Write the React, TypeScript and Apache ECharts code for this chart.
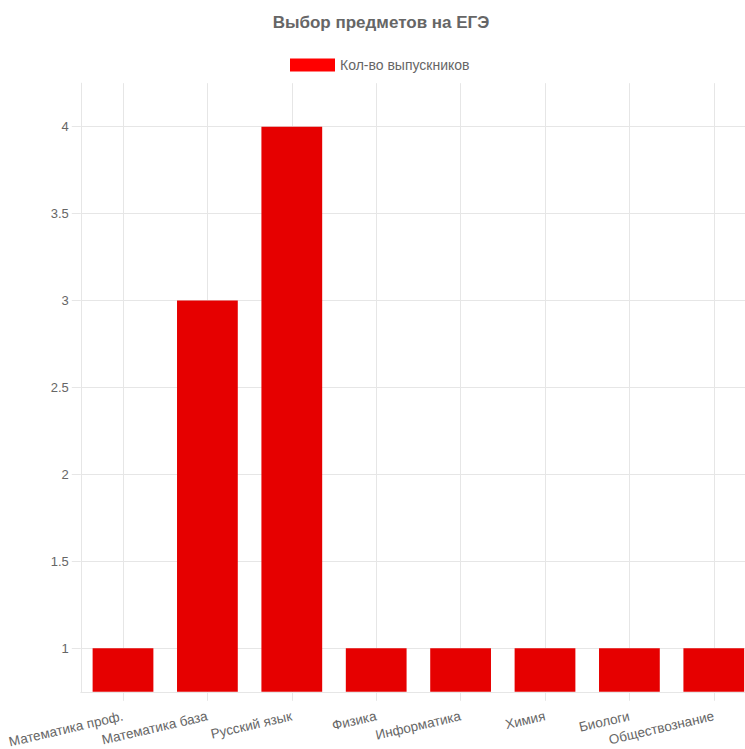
import React, { useEffect, useRef } from "react";
import * as echarts from "echarts";

const chartTitle = "Выбор предметов на ЕГЭ";
const seriesName = "Кол-во выпускников";
const categories = [
  "Математика проф.",
  "Математика база",
  "Русский язык",
  "Физика",
  "Информатика",
  "Химия",
  "Биологи",
  "Обществознание",
];
const values = [1, 3, 4, 1, 1, 1, 1, 1];
const yTicks = [1, 1.5, 2, 2.5, 3, 3.5, 4];
const yMin = 0.75;
const yMax = 4.25;

const FONT = "'Liberation Sans', Arial, Helvetica, sans-serif";
const TEXT = "#666666";
const GRIDC = "#e6e6e6";

export default function App() {
  const ref = useRef<HTMLDivElement>(null);
  useEffect(() => {
    if (!ref.current) return;
    const chart = echarts.init(ref.current, undefined, { renderer: "svg" });
    chart.setOption({
      animation: false,
      backgroundColor: "#ffffff",
      textStyle: { fontFamily: FONT },
      title: {
        text: chartTitle,
        left: "center",
        top: 14,
        padding: 0,
        textStyle: { fontFamily: FONT, fontSize: 17, fontWeight: "bold", color: TEXT },
      },
      legend: {
        top: 58,
        left: 290,
        padding: 0,
        icon: "rect",
        itemWidth: 45,
        itemHeight: 13,
        textStyle: { fontFamily: FONT, fontSize: 14, color: TEXT },
        data: [{ name: seriesName, itemStyle: { color: "#ff0000" } }],
      },
      grid: {
        left: 80.8,
        top: 83.2,
        width: 675.2,
        height: 608.6,
        containLabel: false,
        outerBoundsMode: "none",
      },
      xAxis: {
        type: "category",
        data: categories,
        axisLine: { show: true, lineStyle: { color: GRIDC, width: 1 } },
        axisTick: { show: true, alignWithLabel: true, length: 9, lineStyle: { color: GRIDC } },
        splitLine: { show: true, alignWithLabel: true, lineStyle: { color: GRIDC } },
        axisLabel: {
          rotate: 13,
          margin: 24,
          interval: 0,
          hideOverlap: false,
          fontFamily: FONT,
          fontSize: 13.5,
          color: TEXT,
          padding: [0, 0, 0, 0],
        },
      },
      yAxis: {
        type: "value",
        min: yMin,
        max: yMax,
        axisLine: { show: true, lineStyle: { color: GRIDC, width: 1 } },
        axisTick: { show: true, length: 9, customValues: yTicks, lineStyle: { color: GRIDC } },
        splitLine: { show: true, lineStyle: { color: GRIDC } },
        axisLabel: {
          customValues: yTicks,
          margin: 12,
          fontFamily: FONT,
          fontSize: 13,
          color: TEXT,
        },
      },
      series: [
        {
          name: seriesName,
          type: "bar",
          data: values,
          barWidth: "72%",
          itemStyle: { color: "#e60000" },
        },
      ],
    });
    return () => chart.dispose();
  }, []);
  return (
    <div
      style={{
        position: "fixed",
        left: 0,
        top: 0,
        width: 745,
        height: 749,
        overflow: "hidden",
        background: "#fff",
      }}
    >
      <div ref={ref} style={{ width: 762, height: 749 }} />
    </div>
  );
}
